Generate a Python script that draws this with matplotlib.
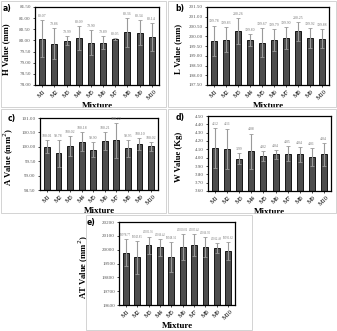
import numpy as np
import matplotlib.pyplot as plt
from matplotlib.patches import Rectangle

plt.rcParams['font.family'] = ['Liberation Serif', 'DejaVu Serif']

mixtures = ["M1", "M2", "M3", "M4", "M5", "M6", "M7", "M8", "M9", "M10"]

h_mean = [80.07, 79.86, 79.99, 80.09, 79.90, 79.89, 80.05, 80.36, 80.34, 80.14]
h_err = [0.83, 0.69, 0.19, 0.54, 0.56, 0.29, 0.05, 0.64, 0.56, 0.62]

l_mean = [199.78, 199.83, 200.26, 199.80, 199.67, 199.79, 199.90, 200.25, 199.92, 199.88]
l_err = [0.77, 0.62, 0.66, 0.32, 0.73, 0.56, 0.57, 0.50, 0.51, 0.47]

a_mean = [100.01, 99.78, 100.02, 100.18, 99.90, 100.21, 100.22, 99.95, 100.10, 100.02]
a_err = [0.21, 0.47, 0.34, 0.34, 0.25, 0.31, 0.60, 0.30, 0.22, 0.16]

w_mean = [4.12, 4.11, 3.99, 4.08, 4.02, 4.04, 4.05, 4.04, 4.01, 4.04]
w_err = [0.24, 0.24, 0.07, 0.21, 0.06, 0.05, 0.09, 0.09, 0.11, 0.14]

at_mean = [19978.77, 19943.85, 20031.96, 20016.42, 19948.34,
           20020.06, 20033.42, 20016.92, 20012.49, 19991.62]
at_err = [96, 121, 63, 59, 107, 95, 77, 73, 33, 66]

panels = [
    # tag, ylabel, mean, err, ylim, step, label size, axes rect (px: left, top, right, bottom), box
    ("a)", "H Value (mm)", h_mean, h_err, (78.0, 81.5), 0.5, 2.8,
     (35, 7, 159, 85), (1, 1, 166, 107)),
    ("b)", "L Value (mm)", l_mean, l_err, (197.5, 201.5), 0.5, 2.8,
     (207, 7, 329, 85), (168, 1, 336, 107)),
    ("c)", "A Value (mm$^2$)", a_mean, a_err, (98.5, 101.0), 0.5, 2.8,
     (40, 118, 158, 190), (1, 109, 166, 213)),
    ("d)", "W Value (Kg)", w_mean, w_err, (3.6, 4.5), 0.1, 2.8,
     (208, 116, 331, 191), (168, 109, 336, 213)),
    ("e)", "AT Value (mm$^2$)", at_mean, at_err, (19600, 20200), 100, 2.1,
     (119, 222, 235, 305), (86, 215, 252, 330)),
]

W, H = 337, 331
fig = plt.figure(figsize=(W / 100, H / 100), dpi=100)

x = np.arange(len(mixtures))
for tag, ylab, mean, err, ylim, step, lsize, rect, box in panels:
    l, t, r, b = rect
    fig.patches.append(Rectangle((box[0] / W, 1 - box[3] / H), (box[2] - box[0]) / W,
                                 (box[3] - box[1]) / H, transform=fig.transFigure,
                                 fill=False, edgecolor="#cccccc", linewidth=0.6))
    ax = fig.add_axes([l / W, 1 - b / H, (r - l) / W, (b - t) / H])
    ax.bar(x, mean, width=0.5, color="#4d4d4d", edgecolor="black", linewidth=0.6, zorder=2)
    ax.errorbar(x, mean, yerr=err, fmt="none", ecolor="#9a9a9a", elinewidth=0.8,
                capsize=1.5, capthick=0.6, zorder=3)
    for xi, m, e in zip(x, mean, err):
        ax.annotate(f"{m:.2f}", (xi, m + e), xytext=(0, 1.5), textcoords="offset points",
                    ha="center", va="bottom", fontsize=lsize, color="#777777")
    ax.set_ylim(*ylim)
    ax.set_xlim(-0.6, len(mixtures) - 0.4)
    ticks = np.arange(ylim[0], ylim[1] + step / 2, step)
    ax.set_yticks(ticks)
    ax.set_yticklabels([f"{v:.2f}" if step < 100 else f"{v:.0f}" for v in ticks],
                       fontsize=3.6, color="#555555")
    ax.set_xticks(x)
    ax.set_xticklabels(mixtures, rotation=45, fontsize=4.6)
    ax.tick_params(axis="both", length=1.5, width=0.5, pad=1.5)
    for s in ax.spines.values():
        s.set_linewidth(0.9)
    ax.set_ylabel(ylab, fontsize=6.2, fontweight="bold", labelpad=2)
    ax.yaxis.set_label_coords(-0.2 if step < 100 else -0.24, 0.46)
    ax.set_xlabel("Mixture", fontsize=6.5, fontweight="bold", labelpad=0.5)
    fig.text((l - 32) / W, 1 - (t + 1) / H, tag, fontsize=5.5, fontweight="bold",
             family="DejaVu Sans", va="center")

fig.savefig("out.png", dpi=100)
